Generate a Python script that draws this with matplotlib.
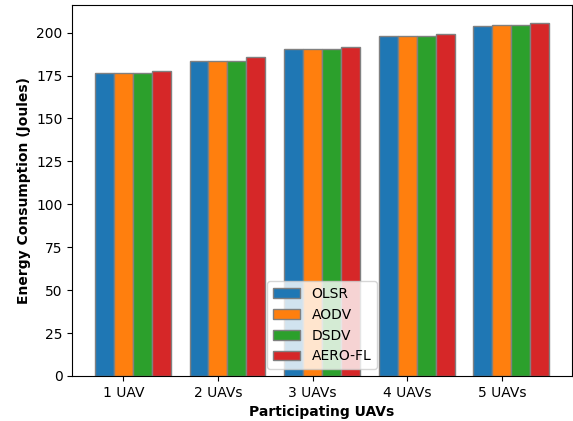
import numpy as np
import matplotlib
matplotlib.use('Agg')
import matplotlib.pyplot as plt

# データ
categories = ['1 UAV', '2 UAVs', '3 UAVs', '4 UAVs', '5 UAVs']
olsr = [176.7, 183.5, 190.7, 197.9, 203.9]
aodv = [176.6, 183.5, 190.3, 197.8, 204.7]
dsdv = [176.6, 183.5, 190.5, 197.9, 204.7]
aero_fl = [177.9, 186.0, 191.9, 199.0, 205.8]

barWidth = 0.2
r1 = np.arange(len(categories))
r2 = r1 + barWidth
r3 = r2 + barWidth
r4 = r3 + barWidth

fig = plt.figure(figsize=(5.73, 4.21), dpi=100)
ax = fig.add_subplot(111)
fig.subplots_adjust(left=0.126, right=0.998, top=0.988, bottom=0.107)

ax.bar(r1, olsr, width=barWidth, color='#1f77b4', edgecolor='grey', label='OLSR')
ax.bar(r2, aodv, width=barWidth, color='#ff7f0e', edgecolor='grey', label='AODV')
ax.bar(r3, dsdv, width=barWidth, color='#2ca02c', edgecolor='grey', label='DSDV')
ax.bar(r4, aero_fl, width=barWidth, color='#d62728', edgecolor='grey', label='AERO-FL')

ax.set_xlabel('Participating UAVs', fontweight='bold')
ax.set_ylabel('Energy Consumption (Joules)', fontweight='bold')
ax.set_xticks(r1 + barWidth)
ax.set_xticklabels(categories)
ax.legend(loc='lower center')

fig.savefig('out.png')
